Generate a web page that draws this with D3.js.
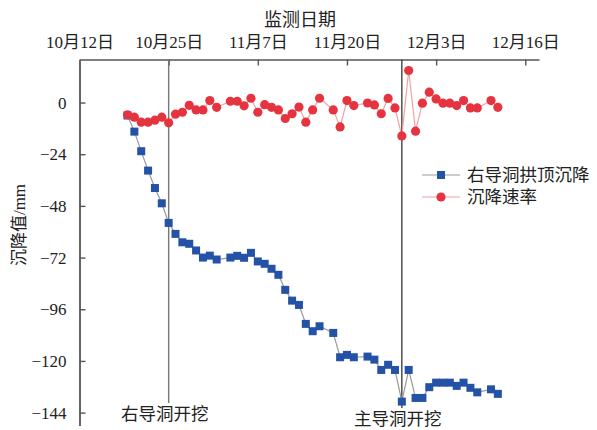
<!DOCTYPE html>
<html>
<head>
<meta charset="utf-8">
<script src="https://cdn.jsdelivr.net/npm/d3@7"></script>
<style>
  html, body { margin: 0; padding: 0; background: #fff; }
  svg text { font-family: "Liberation Serif", "Noto Sans CJK SC", serif; fill: #222; }
</style>
</head>
<body>
<svg id="chart" width="597" height="430"></svg>
<script>
// Monitoring dates (month-day)
const dates = [
  "10-19","10-20","10-21","10-22","10-23","10-24","10-25","10-26","10-27","10-28",
  "10-29","10-30","10-31","11-01","11-03","11-04","11-05","11-06","11-07","11-08",
  "11-09","11-10","11-11","11-12","11-13","11-14","11-15","11-16","11-18","11-19",
  "11-20","11-21","11-23","11-24","11-25","11-26","11-27","11-28","11-29","11-30",
  "12-01","12-02","12-03","12-04","12-05","12-06","12-07","12-08","12-09","12-11",
  "12-12"
];

// Crown settlement of the right heading (mm)
const settlement = [
  -6.0,-13.5,-22.6,-31.6,-39.7,-46.8,-55.9,-61.0,-64.9,-65.6,
  -68.7,-72.0,-71.1,-72.9,-72.0,-71.2,-72.1,-69.8,-73.8,-74.9,
  -77.2,-80.0,-87.0,-92.0,-94.0,-102.8,-106.2,-103.9,-107.0,-118.3,
  -117.2,-118.3,-118.0,-119.4,-124.2,-121.8,-124.2,-138.9,-124.2,-137.2,
  -137.2,-132.2,-130.1,-130.1,-130.1,-131.6,-130.1,-132.5,-134.6,-133.2,
  -135.3
];

// Settlement rate (mm/d)
const rate = [
  -5.7,-6.8,-9.1,-9.1,-8.2,-6.8,-9.4,-5.4,-4.5,-1.3,
  -3.4,-3.4,0.9,-2.2,0.6,0.6,-1.5,2.0,-4.5,-1.0,
  -2.2,-3.4,-7.4,-5.2,-2.1,-9.1,-3.4,2.0,-3.4,-11.3,
  0.9,-1.4,-0.2,-1.1,-5.2,1.9,-2.5,-15.5,14.9,-13.3,
  -0.3,4.8,1.7,-0.3,-0.3,-1.4,0.9,-2.5,-2.5,0.9,
  -2.2
];

const xTickLabels = ["10-12","10-25","11-07","11-20","12-03","12-16"];
const yTicks = [0, -24, -48, -72, -96, -120, -144];

const events = [
  { date: "10-25", label: "右导洞开挖" },
  { date: "11-28", label: "主导洞开挖" }
];

const seriesNames = ["右导洞拱顶沉降", "沉降速率"];

const parse = s => new Date(2020, +s.slice(0, 2) - 1, +s.slice(3, 5));

const svg = d3.select("#chart");
const plotLeft = 79.5, plotTop = 59.5;

const x = d3.scaleTime()
  .domain([parse("10-12"), parse("12-18")])
  .range([plotLeft, 539]);
const y = d3.scaleLinear()
  .domain([-150, 20])
  .range([425.5, plotTop]);

// Top date axis
const xAxis = d3.axisTop(x)
  .tickValues(xTickLabels.map(parse))
  .tickFormat(d3.timeFormat("%-m月%-d日"))
  .tickSizeInner(-6)
  .tickSizeOuter(0)
  .tickPadding(12);
const gx = svg.append("g").attr("transform", `translate(0,${plotTop})`).call(xAxis);
gx.select(".domain").attr("stroke", "#555").attr("stroke-width", 1.6);
gx.selectAll(".tick line").attr("stroke", "#555").attr("stroke-width", 1.4);
gx.selectAll(".tick text").style("font-size", "17px").attr("fill", "#222");

// Left value axis
const yAxis = d3.axisLeft(y)
  .tickValues(yTicks)
  .tickFormat(d => d < 0 ? "\u2212" + Math.abs(d) : d)
  .tickSizeInner(-6)
  .tickSizeOuter(0)
  .tickPadding(13);
const gy = svg.append("g").attr("transform", `translate(${plotLeft},0)`).call(yAxis);
gy.select(".domain").attr("stroke", "#666").attr("stroke-width", 2);
gy.selectAll(".tick line").attr("stroke", "#555").attr("stroke-width", 1.4);
gy.selectAll(".tick text").style("font-size", "17px").attr("fill", "#222");

// Axis titles
svg.append("text")
  .attr("x", 300).attr("y", 26)
  .attr("text-anchor", "middle")
  .style("font-size", "18px")
  .text("监测日期");
svg.append("text")
  .attr("transform", "translate(25,225) rotate(-90)")
  .attr("text-anchor", "middle")
  .style("font-size", "17px")
  .text("沉降值/mm");

// Excavation start markers
events.forEach((e, i) => {
  const ex = x(parse(e.date));
  svg.append("line")
    .attr("x1", ex).attr("x2", ex)
    .attr("y1", plotTop).attr("y2", i === 0 ? 403 : 408)
    .attr("stroke", i === 0 ? "#777" : "#444")
    .attr("stroke-width", 1.4);
  svg.append("text")
    .attr("x", ex - 4).attr("y", i === 0 ? 420 : 425)
    .attr("text-anchor", "middle")
    .style("font-size", "17.5px")
    .text(e.label);
});

const pts = dates.map((d, i) => ({ t: parse(d), s: settlement[i], r: rate[i] }));

// Settlement series: grey line with blue square markers
svg.append("path")
  .datum(pts)
  .attr("fill", "none")
  .attr("stroke", "#9a9a9a")
  .attr("stroke-width", 1.2)
  .attr("d", d3.line().x(d => x(d.t)).y(d => y(d.s)));
svg.append("g").selectAll("rect")
  .data(pts).join("rect")
  .attr("x", d => x(d.t) - 4).attr("y", d => y(d.s) - 4)
  .attr("width", 8).attr("height", 8)
  .attr("fill", "#2452a6");

// Rate series: pale red line with red dots
svg.append("path")
  .datum(pts)
  .attr("fill", "none")
  .attr("stroke", "#f2a0a4")
  .attr("stroke-width", 1.2)
  .attr("d", d3.line().x(d => x(d.t)).y(d => y(d.r)));
svg.append("g").selectAll("circle")
  .data(pts).join("circle")
  .attr("cx", d => x(d.t)).attr("cy", d => y(d.r))
  .attr("r", 4.6)
  .attr("fill", "#e5343f");

// Legend
const legend = svg.append("g").attr("transform", "translate(422,175)");
legend.append("line").attr("x1", 0).attr("x2", 38).attr("y1", 0).attr("y2", 0)
  .attr("stroke", "#9a9a9a").attr("stroke-width", 1.2);
legend.append("rect").attr("x", 15).attr("y", -4).attr("width", 8).attr("height", 8)
  .attr("fill", "#2452a6");
legend.append("text").attr("x", 45).attr("y", 6).style("font-size", "17.5px")
  .text(seriesNames[0]);
legend.append("line").attr("x1", 0).attr("x2", 38).attr("y1", 22).attr("y2", 22)
  .attr("stroke", "#f2a0a4").attr("stroke-width", 1.2);
legend.append("circle").attr("cx", 19).attr("cy", 22).attr("r", 4.6)
  .attr("fill", "#e5343f");
legend.append("text").attr("x", 45).attr("y", 28).style("font-size", "17.5px")
  .text(seriesNames[1]);
</script>
</body>
</html>
